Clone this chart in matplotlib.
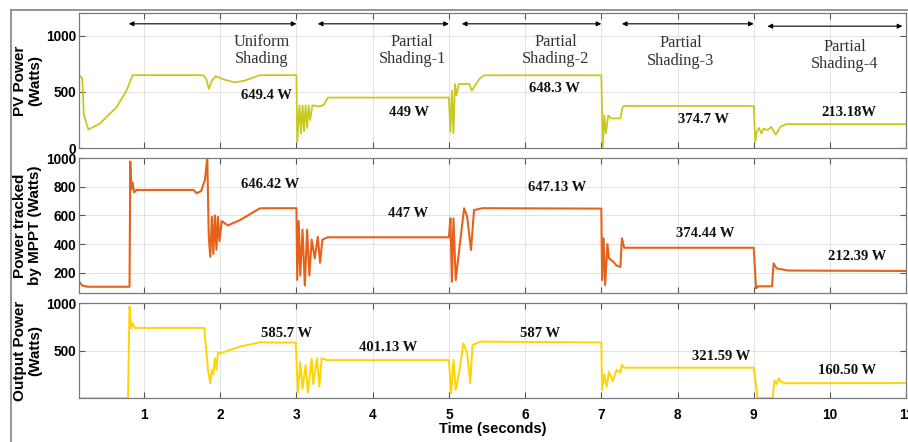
"""PV / MPPT / output power under uniform and partial shading (3 stacked traces)."""

import matplotlib
matplotlib.use("Agg")
import matplotlib.pyplot as plt
from matplotlib.lines import Line2D

# ---- traces (time s, power W) ----
pv_t = [0.16, 0.19, 0.21, 0.27, 0.42, 0.64, 0.77, 0.85, 1.78, 1.82, 1.85, 1.89, 1.94,
        2.05, 2.19, 2.32, 2.52, 3.0, 3.01, 3.04, 3.06, 3.08, 3.10, 3.12, 3.14, 3.16,
        3.18, 3.21, 3.3, 3.36, 3.41, 5.0, 5.02, 5.04, 5.06, 5.08, 5.10, 5.13, 5.16,
        5.27, 5.3, 5.4, 5.46, 7.0, 7.02, 7.04, 7.06, 7.09, 7.13, 7.25, 7.28, 7.30,
        9.0, 9.02, 9.04, 9.07, 9.1, 9.13, 9.17, 9.2, 9.23, 9.26, 9.29, 9.35, 9.43, 11.0]
pv_w = [640, 620, 300, 165, 218, 364, 511, 649, 649, 610, 526, 600, 640,
        610, 585, 600, 649, 649, 55, 379, 130, 379, 150, 380, 180, 380,
        250, 380, 370, 385, 449, 449, 144, 511, 130, 570, 470, 570, 570,
        570, 511, 615, 648, 648, 11, 291, 130, 291, 264, 264, 364, 375,
        375, 55, 144, 180, 130, 175, 160, 170, 190, 150, 120, 190, 213, 213]

mppt_t = [0.16, 0.19, 0.27, 0.81, 0.82, 0.83, 0.85, 0.87, 0.9, 1.65, 1.69, 1.75, 1.8,
          1.83, 1.85, 1.87, 1.89, 1.91, 1.93, 1.95, 1.97, 1.99, 2.02, 2.1, 2.26, 2.52,
          2.7, 3.0, 3.01, 3.03, 3.05, 3.08, 3.11, 3.14, 3.17, 3.2, 3.24, 3.28, 3.31,
          3.34, 3.38, 3.41, 5.0, 5.02, 5.04, 5.06, 5.09, 5.14, 5.2, 5.24, 5.29, 5.33,
          5.44, 7.0, 7.01, 7.03, 7.05, 7.08, 7.1, 7.15, 7.2, 7.25, 7.27, 7.3, 9.0,
          9.03, 9.06, 9.24, 9.26, 9.3, 9.45, 11.0]
mppt_w = [130, 110, 102, 102, 975, 780, 830, 760, 777, 777, 754, 770, 850,
          1000, 450, 310, 590, 330, 600, 360, 590, 420, 560, 530, 567, 649,
          650, 650, 150, 560, 180, 500, 110, 500, 180, 430, 300, 450, 270,
          430, 440, 447, 447, 579, 137, 579, 149, 381, 650, 591, 358, 637,
          650, 647, 149, 440, 114, 400, 300, 280, 250, 240, 440, 374, 374,
          91, 105, 105, 265, 230, 215, 212]

out_t = [0.15, 0.79, 0.81, 0.83, 0.85, 0.88, 1.79, 1.84, 1.87, 1.89, 1.91, 1.93, 1.95,
         1.97, 2.0, 2.1, 2.26, 2.52, 2.7, 2.99, 3.02, 3.05, 3.08, 3.12, 3.15, 3.2,
         3.22, 3.27, 3.3, 3.33, 3.4, 5.0, 5.03, 5.06, 5.09, 5.14, 5.19, 5.24, 5.28,
         5.31, 5.42, 7.0, 7.01, 7.04, 7.07, 7.1, 7.15, 7.2, 7.25, 7.27, 7.3, 9.0,
         9.05, 9.25, 9.27, 9.3, 9.33, 9.36, 9.41, 11.0]
out_w = [0, 0, 964, 737, 790, 740, 740, 298, 158, 300, 250, 420, 300,
         480, 474, 500, 543, 589, 586, 586, 60, 380, 100, 350, 60, 420,
         150, 420, 122, 421, 401, 401, 53, 403, 87, 298, 579, 474, 158,
         561, 596, 587, 87, 250, 120, 280, 180, 300, 270, 351, 322, 322,
         0, 0, 185, 150, 210, 170, 158, 160]

# ---- annotations ----
region_labels = ["Uniform\nShading", "Partial\nShading-1", "Partial\nShading-2",
                 "Partial\nShading-3", "Partial\nShading-4"]
region_x = [2.55, 4.52, 6.40, 8.04, 10.19]
region_y = [868, 868, 868, 855, 824]
arrow_x0 = [0.80, 3.28, 5.17, 7.27, 9.18]
arrow_x1 = [3.00, 5.00, 7.00, 9.00, 10.95]
arrow_y = [1106, 1106, 1106, 1106, 1085]

pv_labels = ["649.4 W", "449 W", "648.3 W", "374.7 W", "213.18W"]
pv_lx = [2.61, 4.48, 6.38, 8.34, 10.25]
pv_ly = [471, 321, 532, 253, 321]

mppt_labels = ["646.42 W", "447 W", "647.13 W", "374.44 W", "212.39 W"]
mppt_lx = [2.65, 4.47, 6.42, 8.36, 10.35]
mppt_ly = [817, 614, 796, 470, 312]

out_labels = ["585.7 W", "401.13 W", "587 W", "321.59 W", "160.50 W"]
out_lx = [2.87, 4.20, 6.20, 8.57, 10.23]
out_ly = [684, 537, 677, 438, 297]

xticks = list(range(1, 12))

SANS = ["Liberation Sans", "DejaVu Sans"]
SERIF = ["Liberation Serif", "DejaVu Serif"]

fig = plt.figure(figsize=(9.08, 4.42), dpi=100)
L, W = 0.087, 0.911
ax_top = fig.add_axes([L, 0.665, W, 0.305])
ax_mid = fig.add_axes([L, 0.337, W, 0.3055])
ax_bot = fig.add_axes([L, 0.099, W, 0.215])

# outer frame (only left + top visible in the original crop)
fig.add_artist(Line2D([0.012, 0.012], [0.0, 0.977], color="#8c8c8c", lw=1.3,
                      transform=fig.transFigure))
fig.add_artist(Line2D([0.012, 1.0], [0.977, 0.977], color="#8c8c8c", lw=1.3,
                      transform=fig.transFigure))

ax_top.plot(pv_t, pv_w, color="#c9c81e", lw=1.3)
ax_mid.plot(mppt_t, mppt_w, color="#e6621b", lw=1.5)
ax_bot.plot(out_t, out_w, color="#ffd400", lw=1.4)

panels = [(ax_top, (0, 1200), [0, 500, 1000], "PV Power\n(Watts)"),
          (ax_mid, (58, 1000), [200, 400, 600, 800, 1000], "Power tracked\nby MPPT (Watts)"),
          (ax_bot, (0, 1000), [500, 1000], "Output Power\n(Watts)")]
for ax, ylim, yt, lab in panels:
    ax.set_xlim(0.147, 11)
    ax.set_ylim(*ylim)
    ax.set_yticks(yt)
    ax.set_xticks(xticks)
    ax.grid(True, color="#e3e3e3", lw=0.7)
    ax.set_axisbelow(True)
    ax.tick_params(direction="in", length=4, top=True, right=True, color="#555555",
                   labelsize=9.8, pad=2)
    for s in ax.spines.values():
        s.set_color("#7a7a7a")
        s.set_linewidth(0.9)
    for t in ax.get_yticklabels() + ax.get_xticklabels():
        t.set_fontweight("bold")
        t.set_family(SANS)
    ax.set_ylabel(lab, fontsize=11, fontweight="bold", family=SANS, labelpad=3,
                  linespacing=1.05)
    if ax is not ax_bot:
        ax.tick_params(labelbottom=False)

ax_bot.tick_params(axis="x", pad=7)
ax_bot.set_xlabel("Time (seconds)", fontsize=10.5, fontweight="bold", family=SANS,
                  labelpad=0)
fig.align_ylabels([ax_top, ax_mid, ax_bot])

for x0, x1, y in zip(arrow_x0, arrow_x1, arrow_y):
    ax_top.annotate("", xy=(x1, y), xytext=(x0, y),
                    arrowprops=dict(arrowstyle="<|-|>", color="black", lw=0.8,
                                    mutation_scale=7, shrinkA=0, shrinkB=0))
for s, x, y in zip(region_labels, region_x, region_y):
    ax_top.text(x, y, s, ha="center", va="center", fontsize=11.8, family=SERIF,
                color="#333333", linespacing=1.15)

for ax, labs, xs, ys in [(ax_top, pv_labels, pv_lx, pv_ly),
                         (ax_mid, mppt_labels, mppt_lx, mppt_ly),
                         (ax_bot, out_labels, out_lx, out_ly)]:
    for s, x, y in zip(labs, xs, ys):
        ax.text(x, y, s, ha="center", va="center", fontsize=10.5, family=SERIF,
                fontweight="bold", color="#111111")

fig.savefig("out.png", dpi=100)
